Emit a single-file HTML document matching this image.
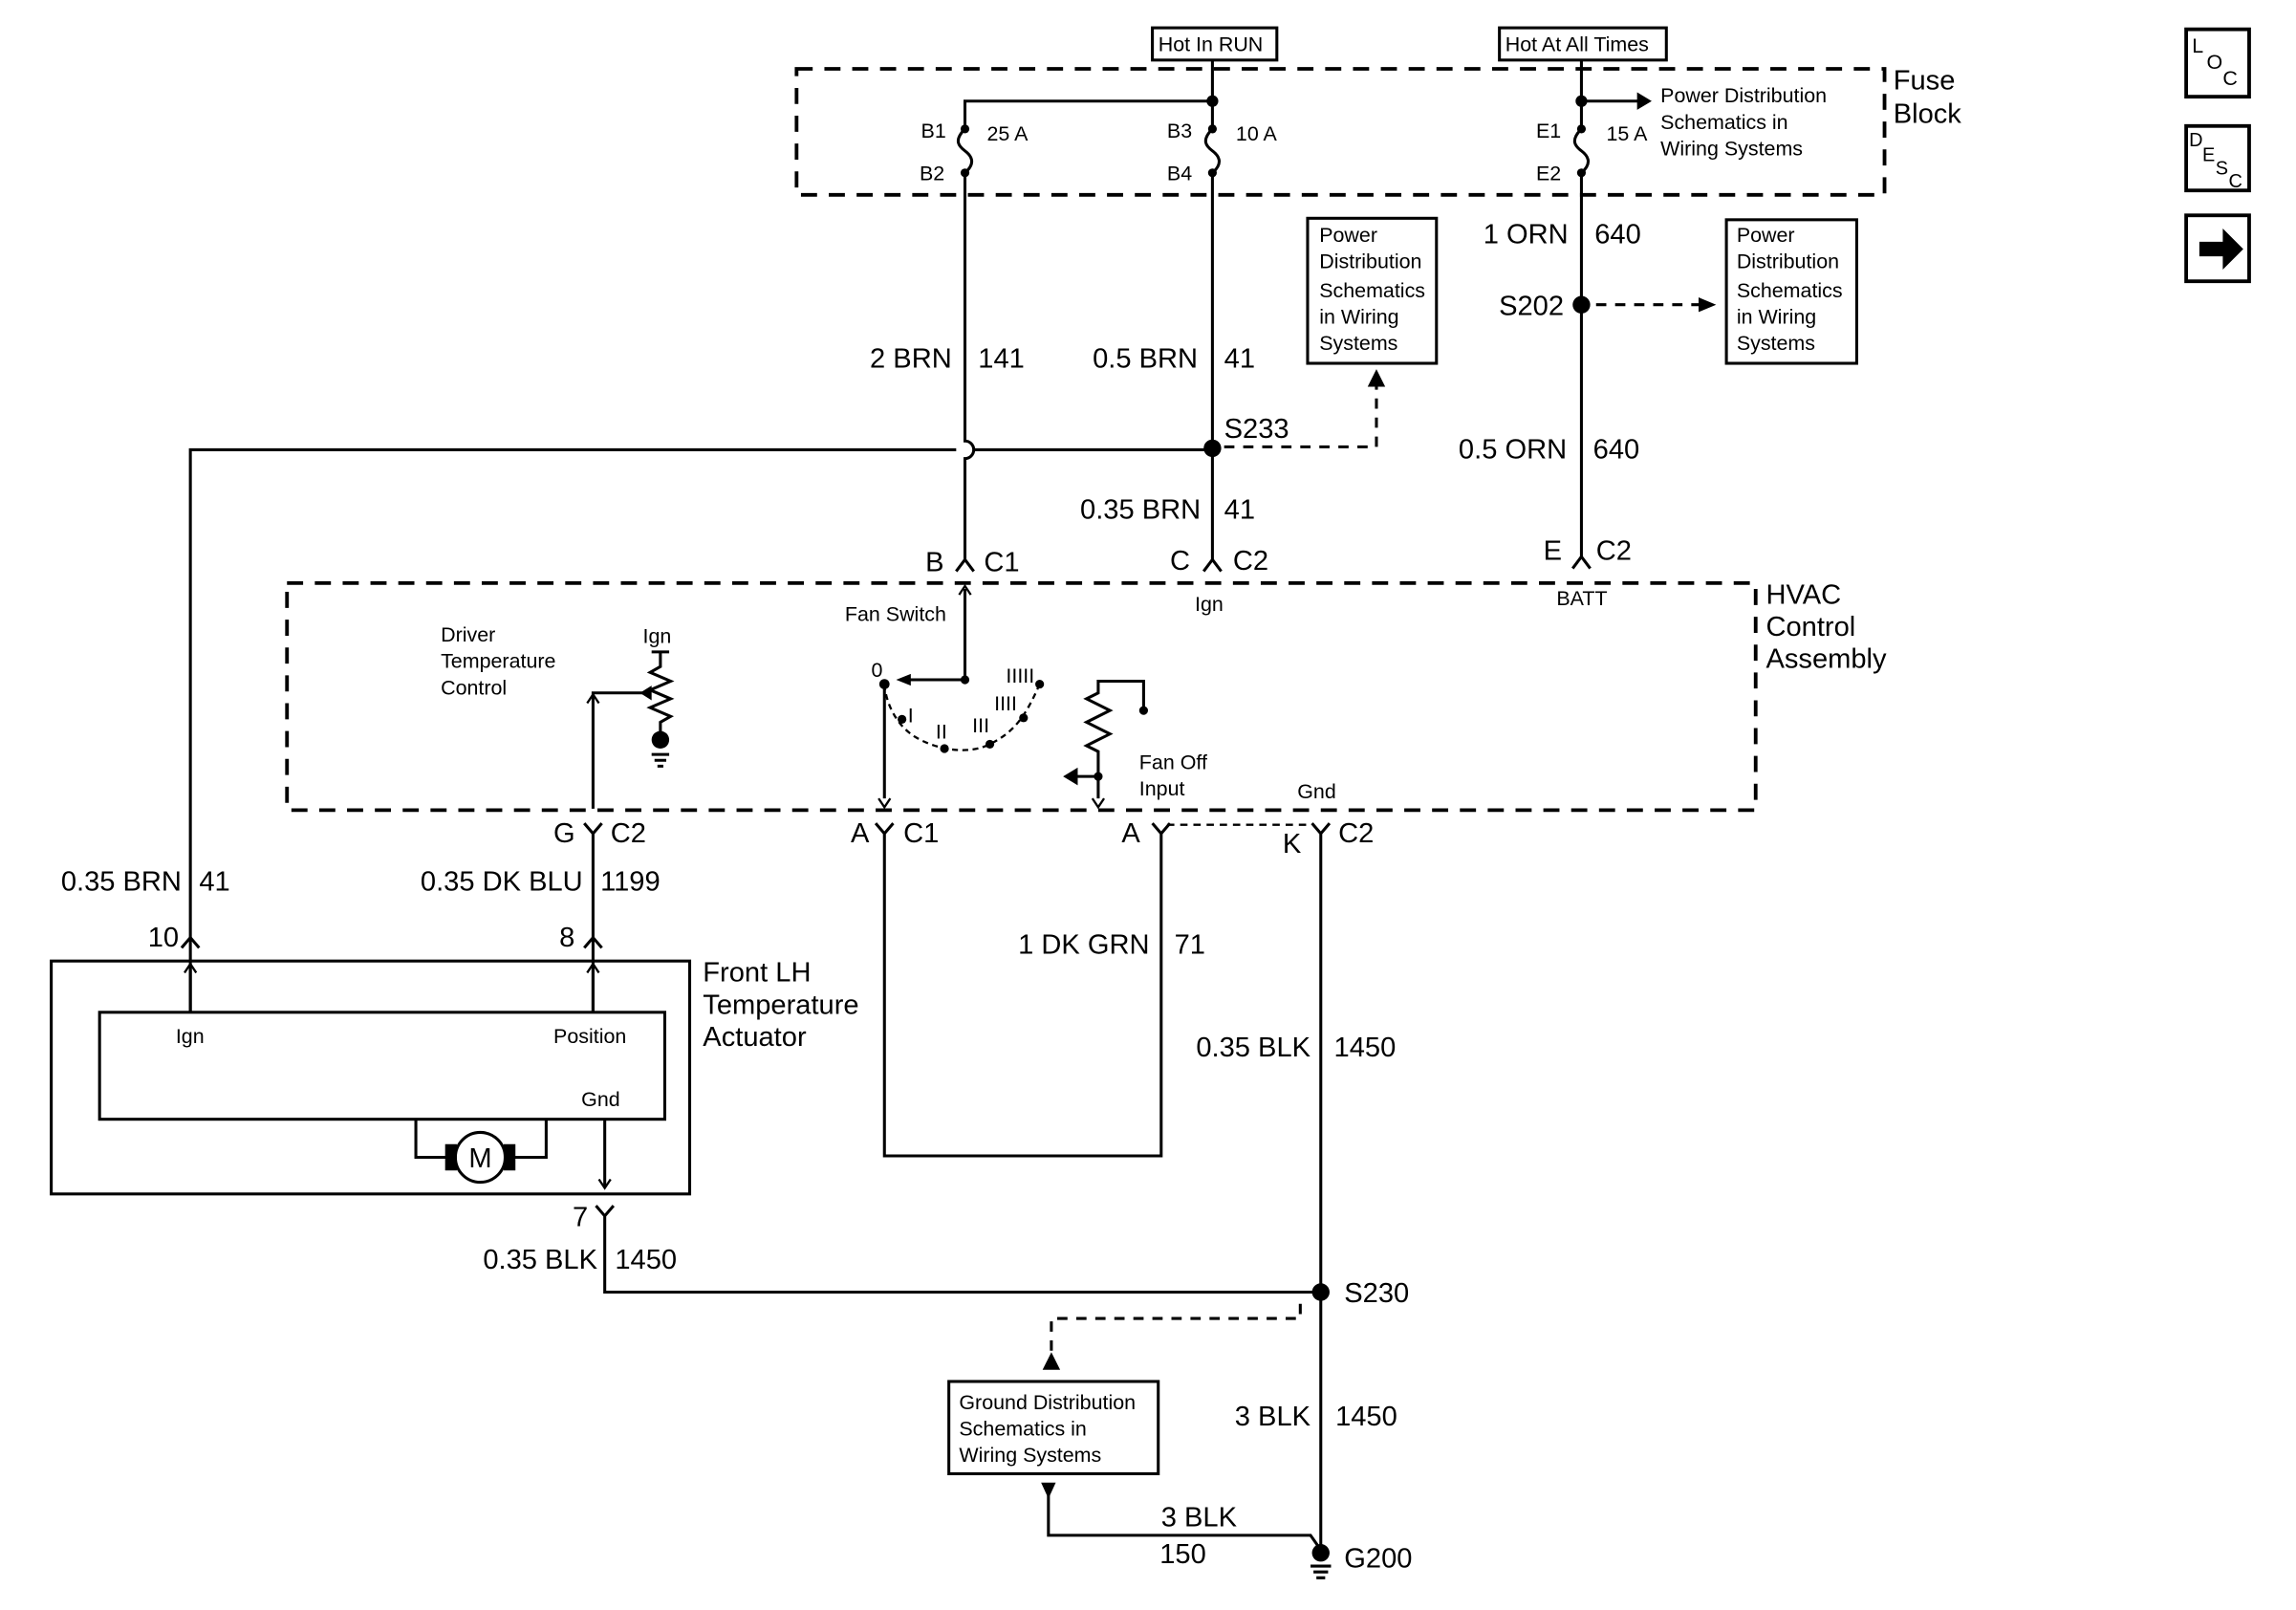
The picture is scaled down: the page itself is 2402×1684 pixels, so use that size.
<!DOCTYPE html>
<html><head><meta charset="utf-8"><style>
html,body{margin:0;padding:0;background:#fff;}
svg{display:block;}
text{font-family:"Liberation Sans",sans-serif;fill:#000;}
.l{font-size:19px;}
.s{font-size:14px;}
</style></head><body>
<svg width="2402" height="1684" viewBox="0 0 1568 1099" preserveAspectRatio="none" xmlns="http://www.w3.org/2000/svg">
<rect width="1570" height="1100" fill="#fff"/>
<g fill="none" stroke="#000" stroke-width="2">
<rect x="544" y="47" width="743" height="86" stroke-width="2.5" stroke-dasharray="11,8"/>
<rect x="787" y="19" width="85" height="22"/>
<rect x="1024" y="19" width="114" height="22"/>
<path d="M828 41V88M659 88V69H828"/>
<path d="M1080 41V88M1080 69H1120"/>
<path d="M659 88c-8 8-4 12 0 15s8 8 0 15"/>
<path d="M828 88c-8 8-4 12 0 15s8 8 0 15"/>
<path d="M1080 88c-8 8-4 12 0 15s8 8 0 15"/>
<path d="M659 118V301a6 6 0 0 1 0 12V383"/>
<path d="M828 118V383"/>
<path d="M1080 118V380"/>
<path d="M130 640V307H653M665 307H828"/>
<path d="M836 305H940V262" stroke-dasharray="7,6"/>
<path d="M1090 208H1160" stroke-dasharray="7,6"/>
<rect x="893" y="149" width="88" height="99"/>
<rect x="1179" y="150" width="89" height="98"/>
<path d="M653 390l6-8 6 8M822 390l6-8 6 8M1074 388l6-8 6 8"/>
<rect x="196" y="398" width="1003" height="155" stroke-width="2.5" stroke-dasharray="11,8"/>
<path d="M399 562l6 7 6-7M405 569V650M598 562l6 7 6-7M604 569V789H793V569M787 562l6 7 6-7M896 562l6 7 6-7M902 569V1060M124 647l6-7 6 7M130 640V691M399 647l6-7 6 7M405 640V691"/>
<path d="M407 823l6 7 6-7M413 830V882H902"/>
<path d="M797 563H893" stroke-dasharray="5,4" stroke-width="1.5"/>
<rect x="35" y="656" width="436" height="159"/>
<rect x="68" y="691" width="386" height="73"/>
<path d="M130 691V660M405 691V660M413 764V810"/>
<path d="M284 764V790H373V764"/>
<circle cx="328" cy="790" r="17" fill="#fff"/>
<path d="M888 890V900H718V932" stroke-dasharray="7,6"/>
<rect x="648" y="943" width="143" height="63"/>
<path d="M716 1020V1048H895L902 1058"/>
<path d="M451 445V455l-7 4 14 6-14 6 14 6-14 6 14 6-7 4V505"/>
<path d="M445 445H457"/>
<path d="M405 552V473H443"/>
<path d="M445 515H457M447 519H455M449 523H453"/>
<path d="M659 402V464H618"/>
<path d="M604 467V545"/>
<path d="M604 467C605 480 612 495 625 503S660 516 676 508 700 490 710 467" stroke-dasharray="4,3" stroke-width="1.5"/>
<path d="M781 484V465H750V473l-8 4 16 8-16 8 16 8-16 8 8 4V545M750 530H735"/>
</g>
<g fill="#000">
<circle cx="828" cy="69" r="4"/><circle cx="1080" cy="69" r="4"/>
<circle cx="659" cy="88" r="3"/><circle cx="659" cy="118" r="3"/>
<circle cx="828" cy="88" r="3"/><circle cx="828" cy="118" r="3"/>
<circle cx="1080" cy="88" r="3"/><circle cx="1080" cy="118" r="3"/>
<path d="M1118 63l10 6-10 6z"/>
<circle cx="828" cy="306" r="6"/><circle cx="1080" cy="208" r="6"/><circle cx="902" cy="882" r="6"/>
<path d="M934 264l6-12 6 12z"/><path d="M1160 203l12 5-12 5z"/>
<path d="M712 935l6-12 6 12z"/><path d="M711 1012h10l-5 11z"/>
<circle cx="902" cy="1060" r="6"/>
<path d="M895 1068h14v2h-14zM897 1072h10v2h-10zM899 1076h6v2h-6z"/>
<circle cx="451" cy="505" r="6"/>
<path d="M437 473l8-5v10z"/>
<circle cx="659" cy="464" r="3"/><circle cx="604" cy="467" r="3.5"/>
<circle cx="616" cy="491" r="3"/><circle cx="645" cy="511" r="3"/><circle cx="676" cy="508" r="3"/><circle cx="699" cy="490" r="3"/><circle cx="710" cy="467" r="3"/>
<path d="M612 464l10-4v8z"/>
<circle cx="781" cy="485" r="3"/><circle cx="750" cy="530" r="3"/>
<path d="M726 530l10-6v12z"/>
<path d="M304 781h8v18h-8zM344 781h8v18h-8z"/>
</g>
<g fill="none" stroke="#000" stroke-width="1.5">
<path d="M655 406l4-6 4 6M600 545l4 6 4-6M746 545l4 6 4-6"/>
<path d="M126 664l4-6 4 6M401 664l4-6 4 6M409 805l4 6 4-6"/>
<path d="M401 480l4-6 4 6"/>
</g>
<text class="s" x="791" y="35">Hot In RUN</text>
<text class="s" x="1028" y="35">Hot At All Times</text>
<text class="l" x="1293" y="61">Fuse</text><text class="l" x="1293" y="84">Block</text>
<text class="s" x="629" y="94">B1</text><text class="s" x="628" y="123">B2</text><text class="s" x="674" y="96">25 A</text>
<text class="s" x="797" y="94">B3</text><text class="s" x="797" y="123">B4</text><text class="s" x="844" y="96">10 A</text>
<text class="s" x="1049" y="94">E1</text><text class="s" x="1049" y="123">E2</text><text class="s" x="1097" y="96">15 A</text>
<text class="s" x="1134" y="70">Power Distribution</text><text class="s" x="1134" y="88">Schematics in</text><text class="s" x="1134" y="106">Wiring Systems</text>
<text class="s" x="901" y="165">Power</text><text class="s" x="901" y="183">Distribution</text><text class="s" x="901" y="203">Schematics</text><text class="s" x="901" y="221">in Wiring</text><text class="s" x="901" y="239">Systems</text>
<text class="s" x="1186" y="165">Power</text><text class="s" x="1186" y="183">Distribution</text><text class="s" x="1186" y="203">Schematics</text><text class="s" x="1186" y="221">in Wiring</text><text class="s" x="1186" y="239">Systems</text>
<text class="l" x="650" y="251" text-anchor="end">2 BRN</text><text class="l" x="668" y="251">141</text>
<text class="l" x="818" y="251" text-anchor="end">0.5 BRN</text><text class="l" x="836" y="251">41</text>
<text class="l" x="836" y="299">S233</text>
<text class="l" x="820" y="354" text-anchor="end">0.35 BRN</text><text class="l" x="836" y="354">41</text>
<text class="l" x="1071" y="166" text-anchor="end">1 ORN</text><text class="l" x="1089" y="166">640</text>
<text class="l" x="1068" y="215" text-anchor="end">S202</text>
<text class="l" x="1070" y="313" text-anchor="end">0.5 ORN</text><text class="l" x="1088" y="313">640</text>
<text class="l" x="632" y="390">B</text><text class="l" x="672" y="390">C1</text>
<text class="l" x="799" y="389">C</text><text class="l" x="842" y="389">C2</text>
<text class="l" x="1054" y="382">E</text><text class="l" x="1090" y="382">C2</text>
<text class="s" x="816" y="417">Ign</text><text class="s" x="1063" y="413">BATT</text>
<text class="l" x="1206" y="412">HVAC</text><text class="l" x="1206" y="434">Control</text><text class="l" x="1206" y="456">Assembly</text>
<text class="s" x="301" y="438">Driver</text><text class="s" x="301" y="456">Temperature</text><text class="s" x="301" y="474">Control</text>
<text class="s" x="439" y="439">Ign</text>
<text class="s" x="577" y="424">Fan Switch</text>
<text class="s" x="595" y="462">0</text><text class="s" x="620" y="493">I</text><text class="s" x="639" y="504">II</text><text class="s" x="664" y="500">III</text><text class="s" x="679" y="485">IIII</text><text class="s" x="687" y="466">IIIII</text>
<text class="s" x="778" y="525">Fan Off</text><text class="s" x="778" y="543">Input</text>
<text class="s" x="886" y="545">Gnd</text>
<text class="l" x="378" y="575">G</text><text class="l" x="417" y="575">C2</text>
<text class="l" x="581" y="575">A</text><text class="l" x="617" y="575">C1</text>
<text class="l" x="766" y="575">A</text>
<text class="l" x="876" y="582">K</text><text class="l" x="914" y="575">C2</text>
<text class="l" x="124" y="608" text-anchor="end">0.35 BRN</text><text class="l" x="136" y="608">41</text>
<text class="l" x="398" y="608" text-anchor="end">0.35 DK BLU</text><text class="l" x="410" y="608">1199</text>
<text class="l" x="101" y="646">10</text><text class="l" x="382" y="646">8</text>
<text class="l" x="785" y="651" text-anchor="end">1 DK GRN</text><text class="l" x="802" y="651">71</text>
<text class="l" x="480" y="670">Front LH</text><text class="l" x="480" y="692">Temperature</text><text class="l" x="480" y="714">Actuator</text>
<text class="s" x="120" y="712">Ign</text><text class="s" x="378" y="712">Position</text><text class="s" x="397" y="755">Gnd</text>
<text x="328" y="797" text-anchor="middle" style="font-size:19px">M</text>
<text class="l" x="895" y="721" text-anchor="end">0.35 BLK</text><text class="l" x="911" y="721">1450</text>
<text class="l" x="391" y="837">7</text>
<text class="l" x="408" y="866" text-anchor="end">0.35 BLK</text><text class="l" x="420" y="866">1450</text>
<text class="l" x="918" y="889">S230</text>
<text class="s" x="655" y="962">Ground Distribution</text><text class="s" x="655" y="980">Schematics in</text><text class="s" x="655" y="998">Wiring Systems</text>
<text class="l" x="895" y="973" text-anchor="end">3 BLK</text><text class="l" x="912" y="973">1450</text>
<text class="l" x="793" y="1042">3 BLK</text><text class="l" x="792" y="1067">150</text>
<text class="l" x="918" y="1070">G200</text>
<g fill="none" stroke="#000" stroke-width="2.5">
<rect x="1493" y="20" width="43" height="46"/>
<rect x="1493" y="86" width="43" height="44"/>
<rect x="1493" y="147" width="43" height="45"/>
</g>
<text x="1497" y="36" style="font-size:14px">L</text><text x="1507" y="47" style="font-size:14px">O</text><text x="1518" y="58" style="font-size:14px">C</text>
<text x="1495" y="100" style="font-size:13px">D</text><text x="1504" y="110" style="font-size:13px">E</text><text x="1513" y="119" style="font-size:13px">S</text><text x="1522" y="128" style="font-size:13px">C</text>
<path d="M1502 165h16v-9l14 14-14 14v-9h-16z" fill="#000"/>
</svg>
</body></html>
